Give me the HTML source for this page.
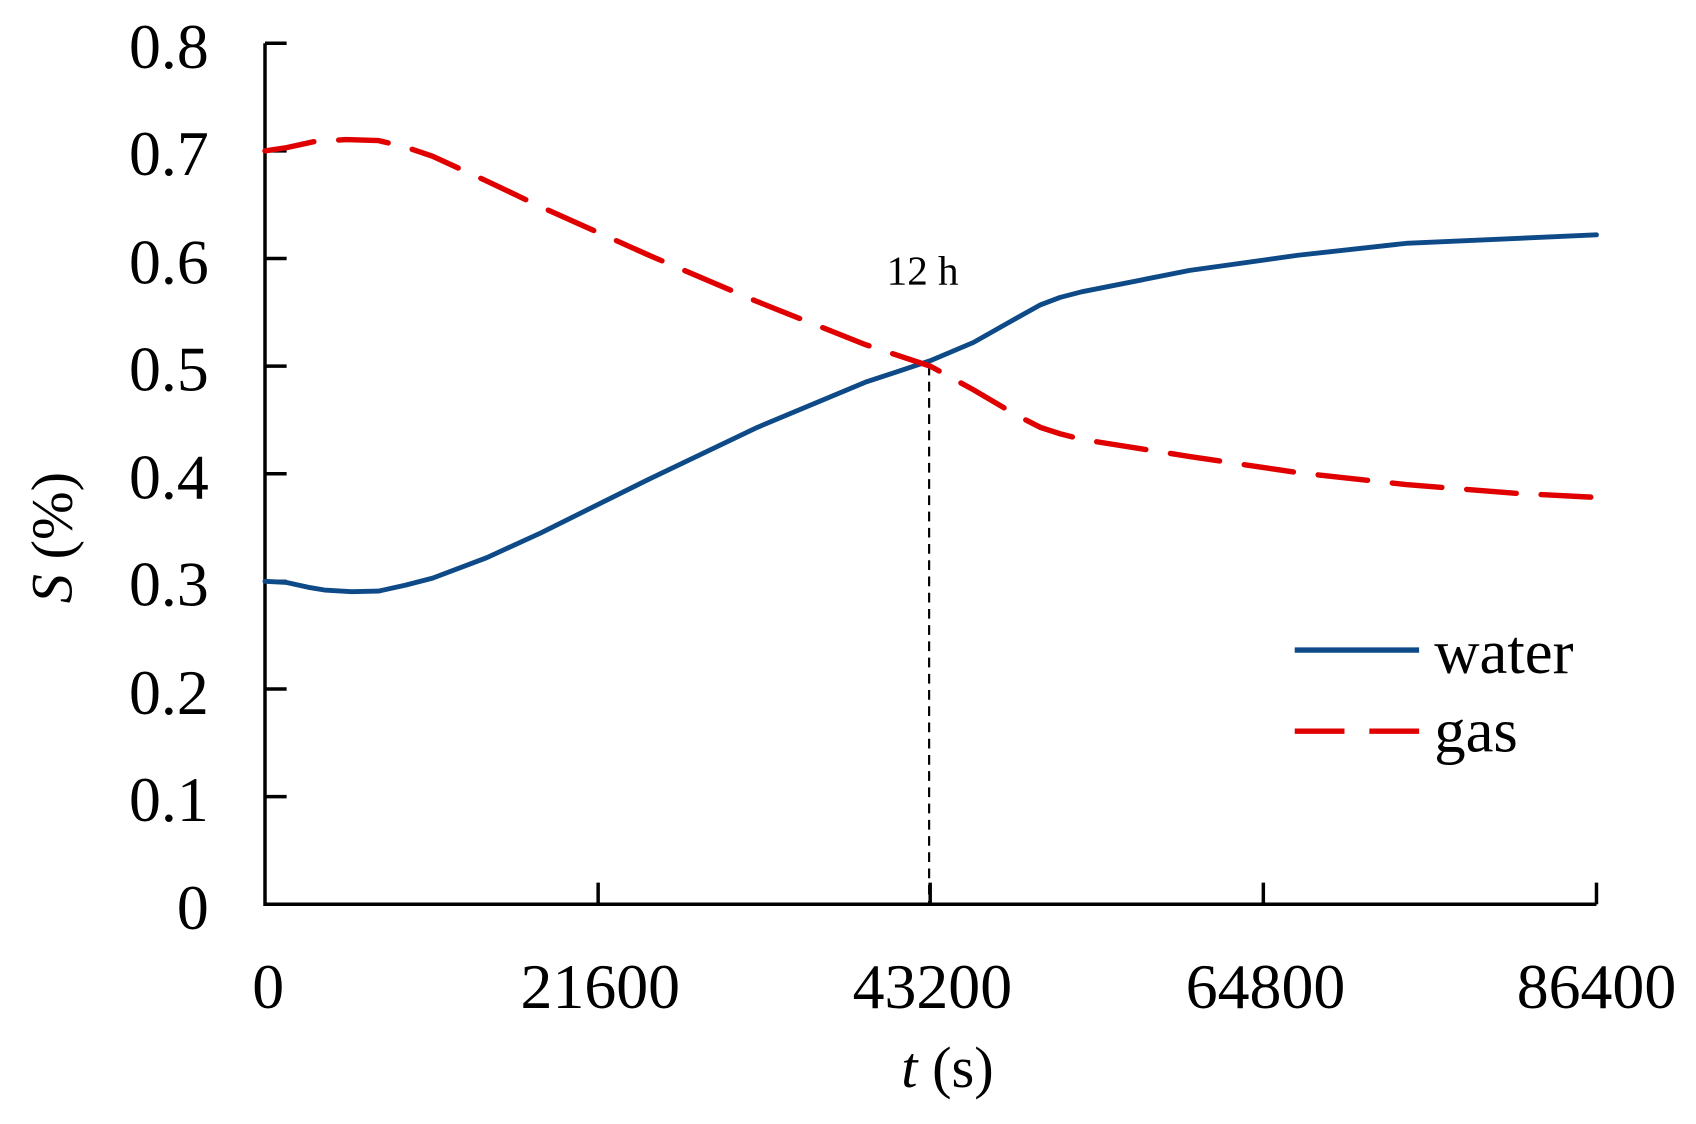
<!DOCTYPE html>
<html><head><meta charset="utf-8"><style>html,body{margin:0;padding:0;background:#fff}svg{display:block}</style></head>
<body>
<svg width="1696" height="1124" viewBox="0 0 1568 1039.2" preserveAspectRatio="none" xmlns="http://www.w3.org/2000/svg" font-family="'Liberation Serif',serif">
<rect width="1568" height="1040" fill="#fff"/>
<g stroke="#000" stroke-width="3.2" fill="none">
<path d="M245 40 V836 H1476"/>
<path d="M245 40 h20 M245 139.5 h20 M245 239 h20 M245 338.5 h20 M245 438 h20 M245 537.5 h20 M245 637 h20 M245 736.5 h20"/>
<path d="M553 836 v-20 M860 836 v-20 M1168 836 v-20 M1476 836 v-20"/>
</g>
<g font-size="59" text-anchor="end" fill="#000">
<text x="193" y="63">0.8</text><text x="193" y="162">0.7</text><text x="193" y="262">0.6</text><text x="193" y="361">0.5</text><text x="193" y="461">0.4</text><text x="193" y="560">0.3</text><text x="193" y="660">0.2</text><text x="193" y="759">0.1</text><text x="193" y="859">0</text>
</g>
<g font-size="59" text-anchor="middle" fill="#000">
<text x="248" y="932">0</text><text x="555" y="932">21600</text><text x="862" y="932">43200</text><text x="1170" y="932">64800</text><text x="1476" y="932">86400</text>
</g>
<text x="876" y="1005" font-size="54" text-anchor="middle"><tspan font-style="italic">t</tspan> (s)</text>
<text transform="translate(66,497) rotate(-90)" font-size="54" text-anchor="middle"><tspan font-style="italic">S</tspan> (%)</text>
<text x="853" y="263" font-size="38" text-anchor="middle">12 h</text>
<path d="M859 338 V836" stroke="#000" stroke-width="2" stroke-dasharray="9,6" fill="none"/>
<polyline fill="none" stroke="#0d4a87" stroke-width="4.5" stroke-linejoin="round" stroke-linecap="round" points="245,537.5 265,538.5 285,543 300,545.5 325,547 350,546.5 375,541 400,534.5 450,515.6 500,492.7 600,443 700,395.2 800,353.4 860,333.5 900,316.6 940,294 962,281.8 980,275 1000,269.8 1100,250 1200,236 1300,225 1476,217.1"/>
<polyline fill="none" stroke="#e00000" stroke-width="5" stroke-dasharray="46,23" stroke-linecap="round" points="245,139.5 265,136.5 290,131 320,129 350,130 375,136 400,144.5 450,167.4 500,191.2 600,236 700,278.8 800,318.6 860,338.5 900,360.4 940,384 962,395.2 980,401 1000,406.2 1100,422.1 1200,437 1300,448 1400,456 1476,459.9"/>
<path d="M1197 601 H1312" stroke="#0d4a87" stroke-width="5"/>
<path d="M1197 676 H1312" stroke="#e00000" stroke-width="5" stroke-dasharray="46,23"/>
<text x="1326" y="622" font-size="58">water</text>
<text x="1326" y="695" font-size="58">gas</text>
</svg>
</body></html>
